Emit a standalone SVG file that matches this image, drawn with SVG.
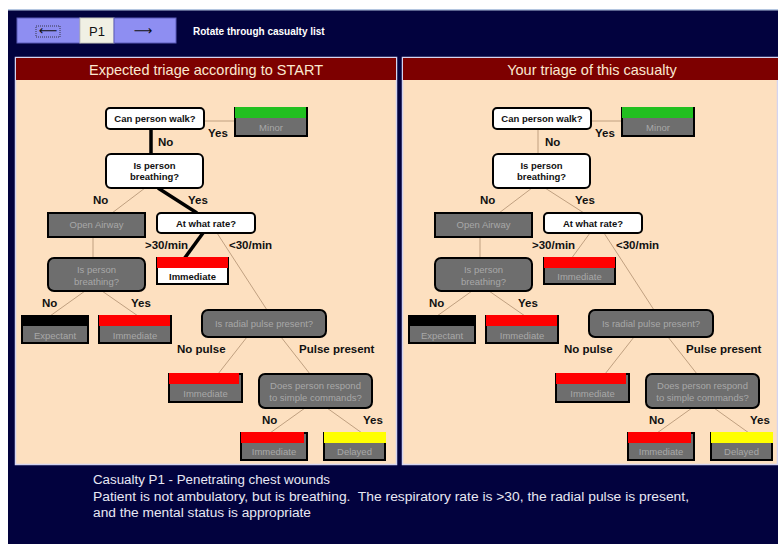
<svg xmlns="http://www.w3.org/2000/svg" width="778" height="544" viewBox="0 0 778 544">
<defs>
<style>
.lbl{font-family:"Liberation Sans",Arial,sans-serif;font-weight:bold;font-size:11.5px;fill:#111}
.qw{font-family:"Liberation Sans",Arial,sans-serif;font-weight:bold;font-size:9.5px;fill:#111;text-anchor:middle}
.qg{font-family:"Liberation Sans",Arial,sans-serif;font-size:9.5px;fill:#a8a8a8;text-anchor:middle}
.wnode{fill:#fff;stroke:#000;stroke-width:2}
.gnode{fill:#6e6e6e;stroke:#000;stroke-width:2}
.thin{stroke:#c0a080;stroke-width:1;fill:none}
.thick{stroke:#000;stroke-width:3.5;fill:none}
.title{font-family:"Liberation Sans",Arial,sans-serif;font-size:14.5px;fill:#fbe8d0;text-anchor:middle}
.foot{font-family:"Liberation Sans",Arial,sans-serif;font-size:12px;fill:#e8e8f4;white-space:pre}
.panel{fill:#fde0c0;stroke:#d4d4f0;stroke-width:1.5}
.tbar{fill:#7d0000}
.btn{fill:#8e8ef2;stroke:#5a5ab8;stroke-width:1}
</style>
</defs>
<rect width="778" height="544" fill="#02023e"/>
<rect width="778" height="9" fill="#fff"/>
<rect y="9" width="778" height="1.5" fill="#b4c6e0"/>
<rect y="0" width="8" height="544" fill="#fff"/>

<g id="toolbar">
<rect class="btn" x="17" y="18" width="63" height="25"/>
<rect x="36" y="26" width="24" height="11" fill="none" stroke="#222" stroke-width="0.8" stroke-dasharray="1,1"/>
<text x="48" y="35" font-family="DejaVu Sans,sans-serif" font-size="13" text-anchor="middle" fill="#111">⟵</text>
<rect x="80" y="18" width="34" height="25" fill="#f0f0e4" stroke="#c8c8c0" stroke-width="1"/>
<text x="97" y="36" font-family="Liberation Sans,Arial,sans-serif" font-size="13" text-anchor="middle" fill="#111">P1</text>
<rect class="btn" x="114" y="18" width="62" height="25"/>
<text x="143" y="35" font-family="DejaVu Sans,sans-serif" font-size="13" text-anchor="middle" fill="#111">⟶</text>
<text x="193" y="35" font-family="Liberation Sans,Arial,sans-serif" font-weight="bold" font-size="10" fill="#fff">Rotate through casualty list</text>
</g>

<g id="panel-left">
<rect class="panel" x="15.5" y="57.5" width="381" height="407"/>
<rect class="tbar" x="16" y="58" width="380" height="22"/>
<text class="title" x="206" y="75">Expected triage according to START</text>
</g>
<g id="panel-right">
<rect class="panel" x="402.5" y="57.5" width="375" height="407"/>
<rect class="tbar" x="403" y="58" width="375" height="22"/>
<text class="title" x="592" y="75">Your triage of this casualty</text>
</g>

<g id="connectors">
<line class="thin" x1="204" y1="121" x2="235" y2="121"/>
<line class="thick" x1="151" y1="129" x2="151" y2="154"/>
<line class="thin" x1="145" y1="188" x2="112" y2="213"/>
<line class="thick" x1="158" y1="188" x2="197" y2="213"/>
<line class="thin" x1="93" y1="237" x2="93" y2="258"/>
<line class="thick" x1="203" y1="233" x2="184" y2="259"/>
<line class="thin" x1="217" y1="233" x2="267" y2="310"/>
<line class="thin" x1="85" y1="291" x2="50" y2="316"/>
<line class="thin" x1="102" y1="291" x2="138" y2="316"/>
<line class="thin" x1="247" y1="337" x2="218" y2="374"/>
<line class="thin" x1="281" y1="337" x2="310" y2="374"/>
<line class="thin" x1="305" y1="408" x2="270" y2="433"/>
<line class="thin" x1="327" y1="408" x2="362" y2="433"/>

<line class="thin" x1="591" y1="121" x2="622" y2="121"/>
<line class="thin" x1="538" y1="129" x2="538" y2="154"/>
<line class="thin" x1="532" y1="188" x2="499" y2="213"/>
<line class="thin" x1="545" y1="188" x2="584" y2="213"/>
<line class="thin" x1="480" y1="237" x2="480" y2="258"/>
<line class="thin" x1="590" y1="233" x2="571" y2="259"/>
<line class="thin" x1="604" y1="233" x2="654" y2="310"/>
<line class="thin" x1="472" y1="291" x2="437" y2="316"/>
<line class="thin" x1="489" y1="291" x2="525" y2="316"/>
<line class="thin" x1="634" y1="337" x2="605" y2="374"/>
<line class="thin" x1="668" y1="337" x2="697" y2="374"/>
<line class="thin" x1="692" y1="408" x2="657" y2="433"/>
<line class="thin" x1="714" y1="408" x2="749" y2="433"/>
</g>

<g id="labels-left">
<text class="lbl" x="208" y="137">Yes</text>
<text class="lbl" x="158" y="146">No</text>
<text class="lbl" x="93" y="204">No</text>
<text class="lbl" x="188" y="204">Yes</text>
<text class="lbl" x="145" y="249">&gt;30/min</text>
<text class="lbl" x="229" y="249">&lt;30/min</text>
<text class="lbl" x="42" y="307">No</text>
<text class="lbl" x="131" y="307">Yes</text>
<text class="lbl" x="177" y="353">No pulse</text>
<text class="lbl" x="299" y="353">Pulse present</text>
<text class="lbl" x="262" y="424">No</text>
<text class="lbl" x="363" y="424">Yes</text>
</g>
<g id="labels-right">
<text class="lbl" x="595" y="137">Yes</text>
<text class="lbl" x="545" y="146">No</text>
<text class="lbl" x="480" y="204">No</text>
<text class="lbl" x="575" y="204">Yes</text>
<text class="lbl" x="532" y="249">&gt;30/min</text>
<text class="lbl" x="616" y="249">&lt;30/min</text>
<text class="lbl" x="429" y="307">No</text>
<text class="lbl" x="518" y="307">Yes</text>
<text class="lbl" x="564" y="353">No pulse</text>
<text class="lbl" x="686" y="353">Pulse present</text>
<text class="lbl" x="649" y="424">No</text>
<text class="lbl" x="750" y="424">Yes</text>
</g>

<!-- Left panel nodes -->
<g id="L-walk"><rect class="wnode" x="106" y="108" width="98" height="21" rx="4"/><text class="qw" x="155" y="122">Can person walk?</text></g>
<g id="L-minor"><rect class="gnode" x="235" y="108" width="72" height="28"/><rect x="235" y="107" width="71" height="11" fill="#22c020"/><text class="qg" x="271" y="131">Minor</text></g>
<g id="L-breath1"><rect class="wnode" x="106" y="154" width="97" height="34" rx="5"/><text class="qw" x="154.5" y="169">Is person</text><text class="qw" x="154.5" y="180">breathing?</text></g>
<g id="L-airway"><rect class="gnode" x="48" y="213" width="97" height="24"/><text class="qg" x="96.5" y="228">Open Airway</text></g>
<g id="L-rate"><rect class="wnode" x="157" y="213" width="98" height="20" rx="4"/><text class="qw" x="206" y="227">At what rate?</text></g>
<g id="L-imm1"><rect x="157" y="258" width="71" height="26" fill="#fff" stroke="#000" stroke-width="2"/><rect x="157" y="257" width="71" height="11" fill="#ff0000"/><text class="qw" x="192.5" y="280">Immediate</text></g>
<g id="L-breath2"><rect class="gnode" x="48" y="258" width="97" height="33" rx="6"/><text class="qg" x="96.5" y="273">Is person</text><text class="qg" x="96.5" y="285">breathing?</text></g>
<g id="L-expectant"><rect class="gnode" x="22" y="316" width="66" height="27"/><rect x="21" y="315" width="67" height="11" fill="#000"/><text class="qg" x="55" y="339">Expectant</text></g>
<g id="L-imm2"><rect class="gnode" x="99" y="316" width="72" height="27"/><rect x="99" y="315" width="71" height="11" fill="#ff0000"/><text class="qg" x="135" y="339">Immediate</text></g>
<g id="L-radial"><rect class="gnode" x="202" y="310" width="124" height="27" rx="6"/><text class="qg" x="264" y="327">Is radial pulse present?</text></g>
<g id="L-imm3"><rect class="gnode" x="169" y="374" width="73" height="28"/><rect x="169" y="373" width="70" height="11" fill="#ff0000"/><text class="qg" x="205.5" y="397">Immediate</text></g>
<g id="L-respond"><rect class="gnode" x="259" y="374" width="113" height="34" rx="6"/><text class="qg" x="315.5" y="389">Does person respond</text><text class="qg" x="315.5" y="401">to simple commands?</text></g>
<g id="L-imm4"><rect class="gnode" x="241" y="433" width="66" height="27"/><rect x="241" y="432" width="63" height="11" fill="#ff0000"/><text class="qg" x="274" y="455">Immediate</text></g>
<g id="L-delayed"><rect class="gnode" x="324" y="433" width="61" height="27"/><rect x="324" y="432" width="62" height="11" fill="#ffff00"/><text class="qg" x="354.5" y="455">Delayed</text></g>

<!-- Right panel nodes -->
<g id="R-walk"><rect class="wnode" x="493" y="108" width="98" height="21" rx="4"/><text class="qw" x="542" y="122">Can person walk?</text></g>
<g id="R-minor"><rect class="gnode" x="622" y="108" width="72" height="28"/><rect x="622" y="107" width="71" height="11" fill="#22c020"/><text class="qg" x="658" y="131">Minor</text></g>
<g id="R-breath1"><rect class="wnode" x="493" y="154" width="97" height="34" rx="5"/><text class="qw" x="541.5" y="169">Is person</text><text class="qw" x="541.5" y="180">breathing?</text></g>
<g id="R-airway"><rect class="gnode" x="435" y="213" width="97" height="24"/><text class="qg" x="483.5" y="228">Open Airway</text></g>
<g id="R-rate"><rect class="wnode" x="544" y="213" width="98" height="20" rx="4"/><text class="qw" x="593" y="227">At what rate?</text></g>
<g id="R-imm1"><rect class="gnode" x="544" y="258" width="71" height="26"/><rect x="544" y="257" width="71" height="11" fill="#ff0000"/><text class="qg" x="579.5" y="280">Immediate</text></g>
<g id="R-breath2"><rect class="gnode" x="435" y="258" width="97" height="33" rx="6"/><text class="qg" x="483.5" y="273">Is person</text><text class="qg" x="483.5" y="285">breathing?</text></g>
<g id="R-expectant"><rect class="gnode" x="409" y="316" width="66" height="27"/><rect x="408" y="315" width="67" height="11" fill="#000"/><text class="qg" x="442" y="339">Expectant</text></g>
<g id="R-imm2"><rect class="gnode" x="486" y="316" width="72" height="27"/><rect x="486" y="315" width="71" height="11" fill="#ff0000"/><text class="qg" x="522" y="339">Immediate</text></g>
<g id="R-radial"><rect class="gnode" x="589" y="310" width="124" height="27" rx="6"/><text class="qg" x="651" y="327">Is radial pulse present?</text></g>
<g id="R-imm3"><rect class="gnode" x="556" y="374" width="73" height="28"/><rect x="556" y="373" width="70" height="11" fill="#ff0000"/><text class="qg" x="592.5" y="397">Immediate</text></g>
<g id="R-respond"><rect class="gnode" x="646" y="374" width="113" height="34" rx="6"/><text class="qg" x="702.5" y="389">Does person respond</text><text class="qg" x="702.5" y="401">to simple commands?</text></g>
<g id="R-imm4"><rect class="gnode" x="628" y="433" width="66" height="27"/><rect x="628" y="432" width="63" height="11" fill="#ff0000"/><text class="qg" x="661" y="455">Immediate</text></g>
<g id="R-delayed"><rect class="gnode" x="711" y="433" width="61" height="27"/><rect x="711" y="432" width="62" height="11" fill="#ffff00"/><text class="qg" x="741.5" y="455">Delayed</text></g>

<g id="footer">
<text class="foot" x="93" y="484" textLength="237" lengthAdjust="spacingAndGlyphs">Casualty P1 - Penetrating chest wounds</text>
<text class="foot" x="93" y="501" textLength="596" lengthAdjust="spacingAndGlyphs">Patient is not ambulatory, but is breathing.  The respiratory rate is &gt;30, the radial pulse is present,</text>
<text class="foot" x="93" y="517" textLength="218" lengthAdjust="spacingAndGlyphs">and the mental status is appropriate</text>
</g>
</svg>
